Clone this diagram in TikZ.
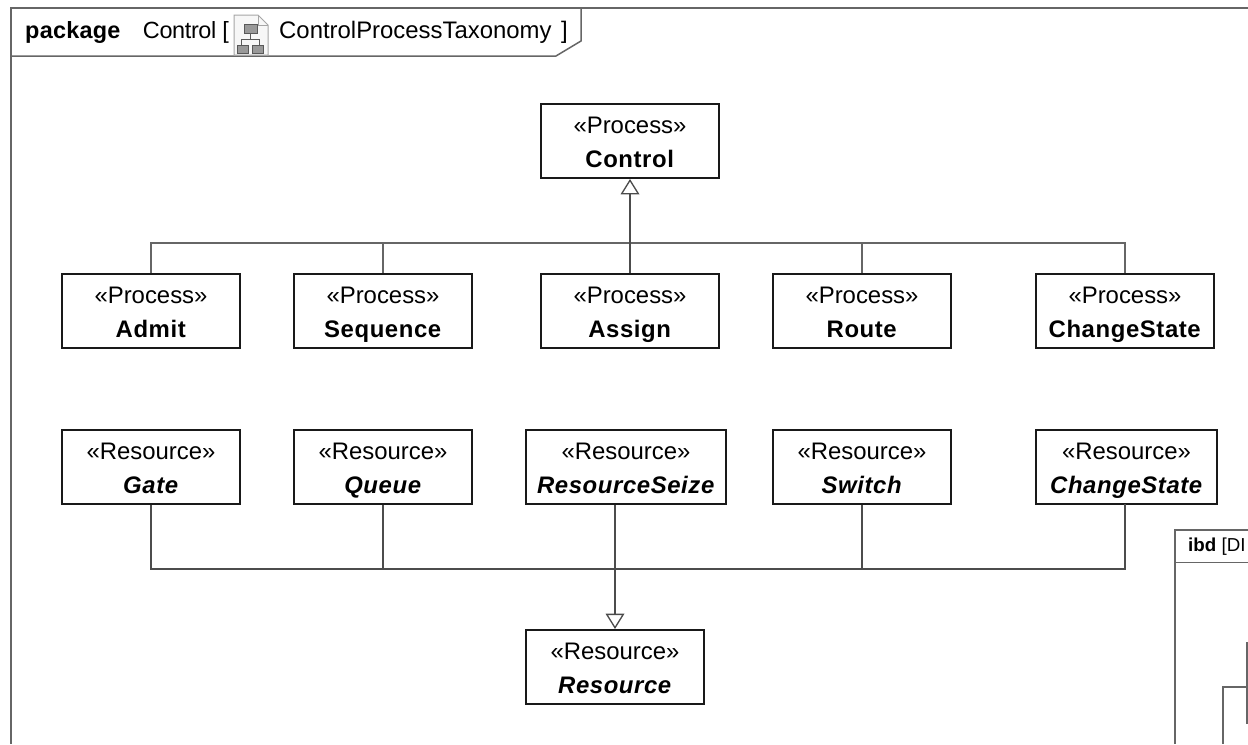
\documentclass[tikz,border=0pt]{standalone}
\usepackage{fontspec}
\setmainfont{Liberation Sans}
\usetikzlibrary{arrows.meta}
\newcommand{\kindname}[1]{\rule{0pt}{24.5pt}«#1»}
\newcommand{\procname}[1]{\strut\textbf{\addfontfeature{LetterSpace=2.5}#1}}
\newcommand{\resname}[1]{\strut\textbf{\itshape\addfontfeature{LetterSpace=2.5}#1}}
\tikzset{
	block/.style={draw=black!90, line width=0.6mm, fill=white, minimum width=5.34cm, minimum height=2.22cm, inner sep=0pt, align=center, font=\fontsize{20.4}{28.5}\selectfont},
	wideblock/.style={block, minimum width=#1},
	link/.style={draw=black!70, line width=0.5mm},
	thinlink/.style={draw=black!60, line width=0.35mm},
	botlink/.style={draw=black!70, line width=0.45mm},
	genarrow/.style={-{Triangle[open, length=0.46cm, width=0.56cm, line width=0.4mm]}},
	frameline/.style={draw=black!60, line width=0.45mm}
}
\begin{document}
\begin{tikzpicture}[x=0.03cm, y=-0.03cm]
	\useasboundingbox (0, 0) rectangle (1248, 744);
	\clip (0, 0) rectangle (1248, 744);
	%%%%% FRAMES %%%%%
	\draw[frameline] (1248, 8) -- (11, 8) -- (11, 744);
	\draw[frameline, fill=white] (11, 8) -- (581, 8) -- (581, 41) -- (556, 56) -- (11, 56) -- cycle;
	\node[anchor=west, inner sep=0pt, font=\fontsize{20}{24}\selectfont] (title) at (25, 32) {\textbf{\addfontfeature{LetterSpace=1}package}\hspace{0.95em}\addfontfeature{LetterSpace=-1.5}Control [};
	\node[anchor=west, inner sep=0pt, font=\fontsize{20.4}{24}\selectfont] (titlename) at (279, 32) {ControlProcessTaxonomy\hspace{0.4em}]};
	%%%%% ICON %%%%%
	\draw[black!35, line width=0.3mm, fill=black!3] (234, 15) -- (258, 15) -- (268, 25) -- (268, 55) -- (234, 55) -- cycle;
	\draw[black!35, line width=0.3mm] (258, 15) -- (258, 25) -- (268, 25);
	\draw[black!65, line width=0.3mm] (250, 33) -- (250, 39) (241, 45) -- (241, 39) -- (259, 39) -- (259, 45);
	\draw[black!65, fill=black!40] (244, 24) rectangle (257, 33);
	\draw[black!65, fill=black!40] (237, 45) rectangle (248, 53);
	\draw[black!65, fill=black!40] (252, 45) rectangle (263, 53);
	%%%%% PROCESS %%%%%
	\node[block] (control) at (630, 141) {\kindname{Process}\\\procname{Control}};
	\node[block] (admit) at (151, 311) {\kindname{Process}\\\procname{Admit}};
	\node[block] (sequence) at (383, 311) {\kindname{Process}\\\procname{Sequence}};
	\node[block] (assign) at (630, 311) {\kindname{Process}\\\procname{Assign}};
	\node[block] (route) at (862, 311) {\kindname{Process}\\\procname{Route}};
	\node[block] (changeproc) at (1125, 311) {\kindname{Process}\\\procname{ChangeState}};
	\coordinate (topbus) at (630, 243);
	\foreach \name in {admit, sequence, route, changeproc}
		\draw[thinlink] (\name.north) |- (topbus);
	\draw[link, genarrow] (assign.north) -- (control.south);
	%%%%% RESOURCE %%%%%
	\node[block] (gate) at (151, 467) {\kindname{Resource}\\\resname{Gate}};
	\node[block] (queue) at (383, 467) {\kindname{Resource}\\\resname{Queue}};
	\node[wideblock=6cm] (seize) at (626, 467) {\kindname{Resource}\\\resname{ResourceSeize}};
	\node[block] (switch) at (862, 467) {\kindname{Resource}\\\resname{Switch}};
	\node[wideblock=5.43cm] (changeres) at (1126.5, 467) {\kindname{Resource}\\\resname{ChangeState}};
	\node[block] (resource) at (615, 667) {\kindname{Resource}\\\resname{Resource}};
	\coordinate (botbus) at (615, 569);
	\foreach \name in {gate, queue, switch}
		\draw[botlink] (\name.south) |- (botbus);
	\coordinate (changeout) at (1125, 504);
	\draw[botlink] (changeout) |- (botbus);
	\draw[link, genarrow] (seize.south -| resource.north) -- (resource.north);
	%%%%% IBD %%%%%
	\draw[frameline, fill=white] (1175, 744) -- (1175, 530) -- (1248, 530);
	\draw[black!60, line width=0.3mm] (1175, 562) -- (1248, 562);
	\node[anchor=west, inner sep=0pt, font=\fontsize{16}{18}\selectfont] (ibdtitle) at (1188, 547) {\textbf{ibd} [DI};
	\draw[frameline] (1247, 642) -- (1247, 724);
	\draw[frameline] (1247, 687) -- (1223, 687) -- (1223, 744);
\end{tikzpicture}
\end{document}
